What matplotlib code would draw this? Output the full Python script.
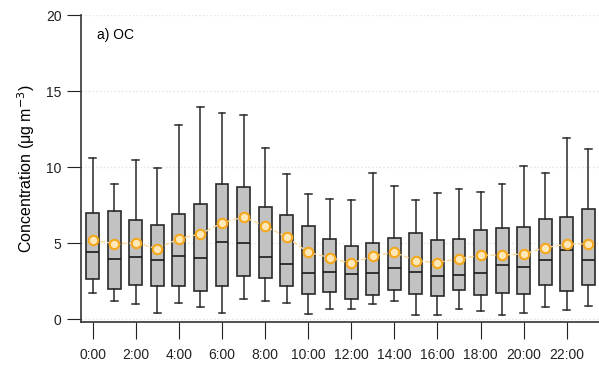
import numpy as np
import matplotlib
matplotlib.use('Agg')
import matplotlib.pyplot as plt

plt.rcParams['font.family'] = ['Liberation Sans', 'DejaVu Sans']

hours = list(range(24))
tick_labels = ['0:00', '2:00', '4:00', '6:00', '8:00', '10:00', '12:00',
               '14:00', '16:00', '18:00', '20:00', '22:00']

# box statistics (ug m-3)
whislo = [1.69, 1.18, 0.96, 0.37, 1.05, 0.77, 0.42, 1.32, 1.18, 1.07, 0.35, 0.68,
          0.64, 0.96, 1.18, 0.24, 0.24, 0.68, 0.50, 0.29, 0.39, 0.77, 0.59, 0.88]
q1 = [2.61, 2.00, 2.24, 2.19, 2.19, 1.86, 2.15, 2.81, 2.72, 2.15, 1.62, 1.78,
      1.34, 1.56, 1.89, 1.64, 1.49, 1.93, 1.56, 1.73, 1.64, 2.26, 1.84, 2.21]
med = [4.41, 3.97, 4.10, 3.86, 4.14, 4.04, 5.07, 5.02, 4.10, 3.62, 3.00, 3.11,
       2.98, 3.05, 3.33, 3.11, 2.81, 2.87, 3.05, 3.53, 3.44, 3.88, 4.52, 3.86]
q3 = [6.97, 7.13, 6.49, 6.18, 6.93, 7.57, 8.90, 8.68, 7.35, 6.84, 6.14, 5.26,
      4.82, 5.00, 5.31, 5.64, 5.18, 5.29, 5.83, 5.99, 6.05, 6.58, 6.69, 7.21]
whishi = [10.57, 8.88, 10.44, 9.96, 12.79, 13.97, 13.57, 13.42, 11.25, 9.54, 8.25, 7.92,
          7.83, 9.61, 8.75, 7.81, 8.31, 8.55, 8.38, 8.90, 10.09, 9.61, 11.93, 11.21]
mean = [5.20, 4.96, 5.00, 4.63, 5.29, 5.59, 6.32, 6.71, 6.12, 5.39, 4.39, 4.04,
        3.66, 4.14, 4.39, 3.84, 3.71, 3.97, 4.19, 4.21, 4.28, 4.69, 4.93, 4.96]

stats = []
for i in hours:
    stats.append({'whislo': whislo[i], 'q1': q1[i], 'med': med[i],
                  'q3': q3[i], 'whishi': whishi[i], 'fliers': []})

fig = plt.figure(figsize=(5.99, 3.66), dpi=100)
ax = fig.add_axes([0.135, 0.12, 0.865, 0.839])

ax.yaxis.grid(True, color='#e3e3e3', linestyle=':', linewidth=1.0)
ax.set_axisbelow(True)

ax.bxp(stats, positions=hours, widths=0.6, capwidths=0.32, patch_artist=True,
       showfliers=False,
       boxprops=dict(facecolor='#c2c2c2', edgecolor='#2a2a2a', linewidth=1.2),
       medianprops=dict(color='#1a1a1a', linewidth=1.2),
       whiskerprops=dict(color='#2a2a2a', linewidth=1.1),
       capprops=dict(color='#2a2a2a', linewidth=1.1))

ax.plot(hours, mean, color='#fbd99a', linestyle='--', linewidth=1.0, zorder=4)
ax.plot(hours, mean, linestyle='none', marker='o', markersize=6.8,
        markerfacecolor='#ffe8b8', markeredgecolor='#f5a81c',
        markeredgewidth=1.5, zorder=5)

ax.set_xlim(-0.55, 23.5)
ax.set_ylim(-0.2, 20)
ax.set_xticks(hours[::2])
ax.set_xticklabels(tick_labels)
ax.set_yticks([0, 5, 10, 15, 20])
ax.tick_params(axis='both', direction='out', labelsize=10, colors='#222222')
ax.tick_params(axis='x', length=12, pad=7)
ax.tick_params(axis='y', length=10, pad=4)

for s in ['top', 'right']:
    ax.spines[s].set_visible(False)
for s in ['left', 'bottom']:
    ax.spines[s].set_color('#333333')
    ax.spines[s].set_linewidth(1.2)

ax.set_ylabel('Concentration (\u03bcg m$^{-3}$)', fontsize=11.5, labelpad=6)
ax.text(0.031, 0.935, 'a) OC', transform=ax.transAxes, fontsize=10,
        ha='left', va='center')

fig.savefig('out.png', dpi=100)
